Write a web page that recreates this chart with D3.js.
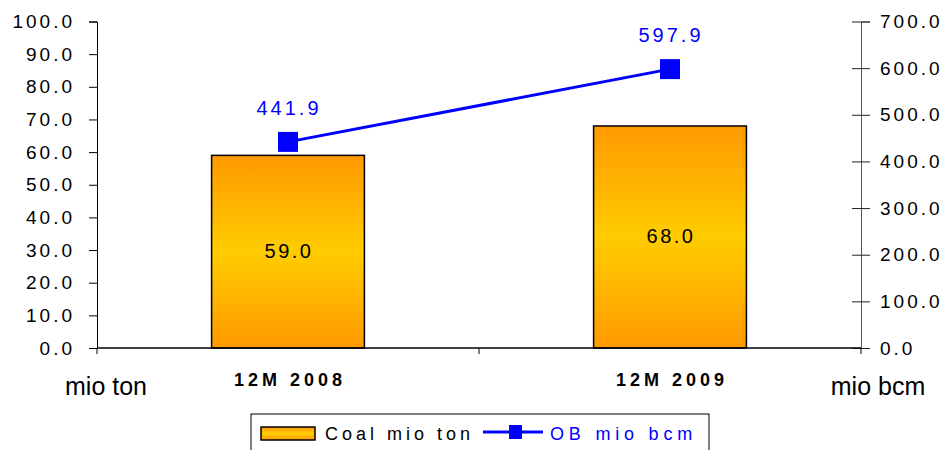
<!DOCTYPE html>
<html>
<head>
  <meta charset="utf-8">
  <title>Coal and OB</title>
  <script src="https://d3js.org/d3.v7.min.js"></script>
  <style>
    body { margin: 0; background: #fff; }
    text { font-family: "Liberation Sans", Arial, sans-serif; }
  </style>
</head>
<body>
<svg width="950" height="450"></svg>
<script>
var categories = ["12M 2008", "12M 2009"]
var coal = [59.0, 68.0]
var ob = [441.9, 597.9]
var leftTicks = [0, 10, 20, 30, 40, 50, 60, 70, 80, 90, 100]
var rightTicks = [0, 100, 200, 300, 400, 500, 600, 700]

var svg = d3.select("svg")
var plotLeft = 97, plotRight = 861, plotTop = 21.5, plotBottom = 348

var x = d3.scaleBand().domain(categories).range([plotLeft, plotRight])
var yL = d3.scaleLinear().domain([0, 100]).range([plotBottom, plotTop])
var yR = d3.scaleLinear().domain([0, 700]).range([plotBottom, plotTop])

// gradient for bars
var defs = svg.append("defs")
var grad = defs.append("linearGradient").attr("id", "barGrad")
  .attr("x1", 0).attr("y1", 0).attr("x2", 0).attr("y2", 1)
grad.append("stop").attr("offset", "0%").attr("stop-color", "#ff9900")
grad.append("stop").attr("offset", "50%").attr("stop-color", "#ffcc00")
grad.append("stop").attr("offset", "100%").attr("stop-color", "#ff9900")

// left axis
var la = svg.append("g").attr("transform", "translate(" + plotLeft + ",0)")
  .call(d3.axisLeft(yL).tickValues(leftTicks).tickSize(8).tickPadding(14)
    .tickFormat(d3.format(".1f")))
la.select(".domain").attr("stroke", "#000")
la.selectAll("text").attr("font-size", 19).attr("fill", "#000")
  .style("letter-spacing", "3px")

// right axis (ticks cross the line)
var ra = svg.append("g").attr("transform", "translate(" + plotRight + ",0)")
  .call(d3.axisRight(yR).tickValues(rightTicks).tickSize(9).tickPadding(10)
    .tickFormat(d3.format(".1f")))
ra.select(".domain").attr("stroke", "#555")
ra.selectAll(".tick line").attr("x1", -9).attr("stroke", "#222")
ra.selectAll("text").attr("font-size", 19).attr("fill", "#000")
  .style("letter-spacing", "3px")

// bars
var bw = x.bandwidth() * 0.4
svg.append("g").selectAll("rect").data(coal).enter().append("rect")
  .attr("x", function (d, i) { return x(categories[i]) + x.bandwidth() / 2 - bw / 2 })
  .attr("y", function (d) { return yL(d) })
  .attr("width", bw)
  .attr("height", function (d) { return plotBottom - yL(d) })
  .attr("fill", "url(#barGrad)")
  .attr("stroke", "#000").attr("stroke-width", 1.5)

svg.append("g").selectAll("text").data(coal).enter().append("text")
  .attr("x", function (d, i) { return x(categories[i]) + x.bandwidth() / 2 + 1 })
  .attr("y", function (d) { return (yL(d) + plotBottom) / 2 + 6 })
  .attr("text-anchor", "middle").attr("font-size", 20)
  .style("letter-spacing", "2.5px")
  .text(function (d) { return d.toFixed(1) })

// bottom axis
var ba = svg.append("g").attr("transform", "translate(0," + plotBottom + ")")
ba.append("line").attr("x1", plotLeft).attr("x2", plotRight).attr("stroke", "#000").attr("stroke-width", 1.5)
;[plotLeft, plotLeft + x.step(), plotRight].forEach(function (px) {
  ba.append("line").attr("x1", px).attr("x2", px).attr("y1", 0).attr("y2", 6).attr("stroke", "#000")
})
svg.append("g").selectAll("text").data(categories).enter().append("text")
  .attr("x", function (d) { return x(d) + x.bandwidth() / 2 + 2 })
  .attr("y", 386)
  .attr("text-anchor", "middle").attr("font-size", 18).attr("font-weight", "bold")
  .style("letter-spacing", "4px")
  .text(function (d) { return d })

svg.append("text").attr("x", 106).attr("y", 395).attr("text-anchor", "middle")
  .attr("font-size", 25).text("mio ton")
svg.append("text").attr("x", 878).attr("y", 395).attr("text-anchor", "middle")
  .attr("font-size", 25).text("mio bcm")

// line series
var cx = function (d, i) { return x(categories[i]) + x.bandwidth() / 2 }
var line = d3.line().x(cx).y(function (d) { return yR(d) })
svg.append("path").datum(ob).attr("d", line)
  .attr("fill", "none").attr("stroke", "#0000ff").attr("stroke-width", 3)
svg.append("g").selectAll("rect").data(ob).enter().append("rect")
  .attr("x", function (d, i) { return cx(d, i) - 10 })
  .attr("y", function (d) { return yR(d) - 10 })
  .attr("width", 20).attr("height", 20).attr("fill", "#0000ff")
svg.append("g").selectAll("text").data(ob).enter().append("text")
  .attr("x", function (d, i) { return cx(d, i) + 1 })
  .attr("y", function (d) { return yR(d) - 27 })
  .attr("text-anchor", "middle").attr("font-size", 20).attr("fill", "#0000ff")
  .style("letter-spacing", "3px")
  .text(function (d) { return d.toFixed(1) })

// legend
var lg = svg.append("g")
lg.append("rect").attr("x", 251).attr("y", 414).attr("width", 458).attr("height", 50)
  .attr("fill", "#fff").attr("stroke", "#000")
lg.append("rect").attr("x", 261).attr("y", 427).attr("width", 54).attr("height", 13)
  .attr("fill", "url(#barGrad)").attr("stroke", "#000").attr("stroke-width", 1.5)
lg.append("text").attr("x", 325).attr("y", 440).attr("font-size", 18)
  .style("letter-spacing", "4px").text("Coal mio ton")
lg.append("line").attr("x1", 483).attr("x2", 543).attr("y1", 432).attr("y2", 432)
  .attr("stroke", "#0000ff").attr("stroke-width", 3)
lg.append("rect").attr("x", 509).attr("y", 425).attr("width", 13).attr("height", 14).attr("fill", "#0000ff")
lg.append("text").attr("x", 550).attr("y", 440).attr("font-size", 18).attr("fill", "#0000ff")
  .style("letter-spacing", "4.8px").text("OB mio bcm")
</script>
</body>
</html>
